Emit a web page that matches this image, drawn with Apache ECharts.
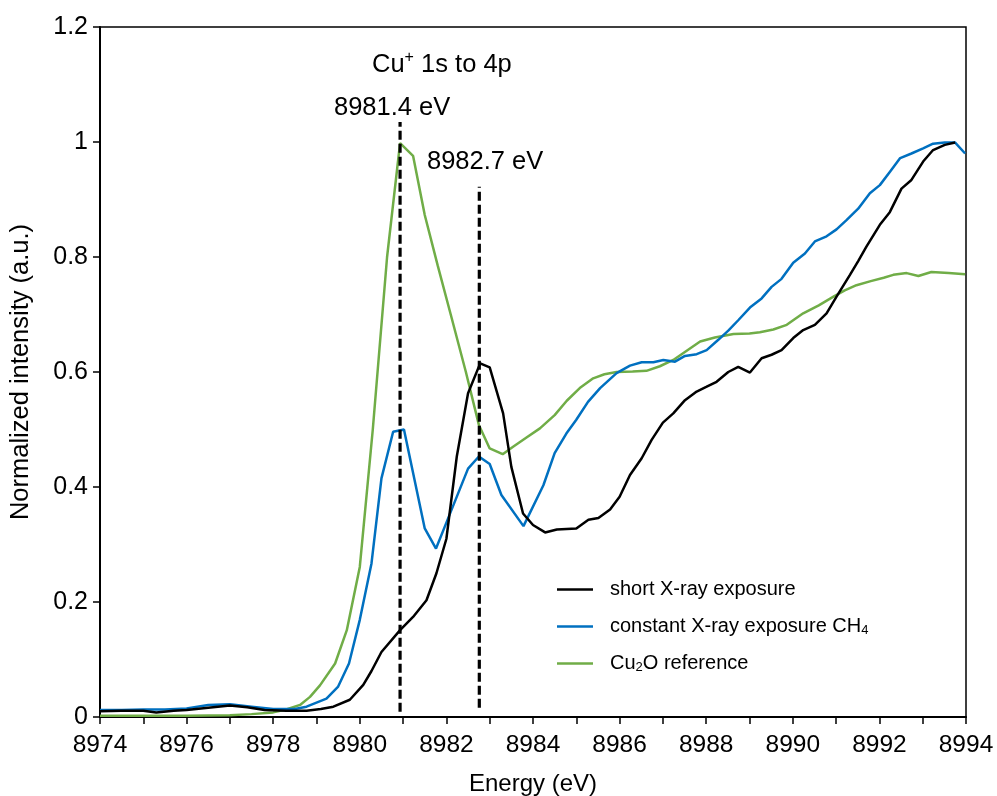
<!DOCTYPE html>
<html>
<head>
<meta charset="utf-8">
<script src="https://cdn.jsdelivr.net/npm/echarts@6/dist/echarts.min.js"></script>
<style>html,body{margin:0;padding:0;background:#fff;}#c{width:997px;height:796px;}</style>
</head>
<body>
<div id="c"></div>
<script>
// ---- data ----
var shortE = [8974.0, 8974.5, 8975.0, 8975.3, 8975.7, 8976.0, 8976.5, 8977.0, 8977.4, 8977.8, 8978.3, 8978.77, 8979.1, 8979.39, 8979.77, 8980.08, 8980.27, 8980.5, 8980.93, 8981.23, 8981.54, 8981.77, 8982.0, 8982.24, 8982.5, 8982.78, 8983.0, 8983.31, 8983.5, 8983.77, 8984.0, 8984.28, 8984.55, 8985.0, 8985.28, 8985.51, 8985.78, 8986.0, 8986.24, 8986.51, 8986.74, 8987.0, 8987.24, 8987.51, 8987.78, 8988.0, 8988.24, 8988.51, 8988.74, 8989.01, 8989.28, 8989.51, 8989.74, 8990.01, 8990.24, 8990.51, 8990.78, 8991.01, 8991.32, 8991.51, 8991.7, 8992.01, 8992.24, 8992.51, 8992.74, 8993.01, 8993.24, 8993.51, 8993.75];
var shortI = [0.010, 0.011, 0.011, 0.008, 0.011, 0.012, 0.016, 0.020, 0.017, 0.012, 0.011, 0.011, 0.014, 0.018, 0.030, 0.056, 0.080, 0.113, 0.151, 0.174, 0.203, 0.250, 0.310, 0.453, 0.563, 0.615, 0.608, 0.528, 0.435, 0.354, 0.334, 0.321, 0.326, 0.328, 0.343, 0.346, 0.361, 0.383, 0.421, 0.450, 0.482, 0.512, 0.528, 0.551, 0.566, 0.574, 0.583, 0.600, 0.609, 0.599, 0.624, 0.630, 0.638, 0.659, 0.673, 0.682, 0.702, 0.731, 0.769, 0.793, 0.818, 0.856, 0.878, 0.919, 0.934, 0.966, 0.986, 0.995, 0.999];

var constE = [8974.0, 8974.5, 8975.0, 8975.5, 8976.0, 8976.5, 8977.0, 8977.5, 8978.0, 8978.5, 8978.77, 8979.23, 8979.5, 8979.75, 8980.0, 8980.27, 8980.5, 8980.77, 8981.02, 8981.5, 8981.76, 8982.0, 8982.25, 8982.5, 8982.75, 8983.0, 8983.27, 8983.78, 8984.24, 8984.5, 8984.77, 8985.0, 8985.27, 8985.55, 8985.93, 8986.24, 8986.51, 8986.78, 8987.01, 8987.28, 8987.51, 8987.78, 8988.01, 8988.28, 8988.51, 8988.74, 8989.01, 8989.28, 8989.51, 8989.74, 8990.01, 8990.28, 8990.51, 8990.78, 8991.01, 8991.24, 8991.51, 8991.78, 8992.01, 8992.24, 8992.48, 8992.74, 8993.01, 8993.24, 8993.51, 8993.75, 8993.98];
var constI = [0.012, 0.012, 0.013, 0.013, 0.015, 0.021, 0.022, 0.018, 0.014, 0.014, 0.018, 0.032, 0.053, 0.093, 0.169, 0.267, 0.415, 0.496, 0.500, 0.328, 0.293, 0.338, 0.385, 0.432, 0.453, 0.440, 0.386, 0.332, 0.403, 0.459, 0.493, 0.517, 0.548, 0.572, 0.598, 0.611, 0.617, 0.617, 0.621, 0.618, 0.628, 0.631, 0.638, 0.656, 0.672, 0.690, 0.712, 0.728, 0.748, 0.762, 0.790, 0.806, 0.827, 0.836, 0.848, 0.864, 0.884, 0.911, 0.925, 0.948, 0.972, 0.980, 0.989, 0.997, 0.999, 0.999, 0.980];

var refE = [8974.0, 8975.0, 8976.0, 8977.0, 8977.5, 8978.0, 8978.3, 8978.62, 8978.85, 8979.08, 8979.43, 8979.7, 8980.0, 8980.3, 8980.63, 8980.93, 8981.23, 8981.5, 8981.8, 8982.1, 8982.45, 8982.75, 8983.0, 8983.3, 8983.54, 8983.85, 8984.16, 8984.5, 8984.78, 8985.08, 8985.39, 8985.65, 8985.93, 8986.3, 8986.62, 8986.93, 8987.24, 8987.55, 8987.86, 8988.2, 8988.63, 8989.0, 8989.24, 8989.55, 8989.86, 8990.24, 8990.6, 8990.94, 8991.2, 8991.47, 8991.8, 8992.1, 8992.32, 8992.63, 8992.9, 8993.2, 8993.6, 8993.98];
var refI = [0.002, 0.002, 0.002, 0.003, 0.005, 0.008, 0.013, 0.021, 0.035, 0.055, 0.093, 0.151, 0.261, 0.500, 0.800, 0.998, 0.976, 0.873, 0.785, 0.700, 0.600, 0.508, 0.467, 0.457, 0.470, 0.486, 0.502, 0.525, 0.550, 0.572, 0.589, 0.596, 0.600, 0.601, 0.602, 0.610, 0.621, 0.637, 0.653, 0.660, 0.666, 0.667, 0.669, 0.674, 0.682, 0.702, 0.716, 0.731, 0.742, 0.751, 0.758, 0.764, 0.769, 0.772, 0.767, 0.774, 0.772, 0.770];

// dashed marker lines
var markE = [8980.93, 8982.76];
var markTop = [1.035, 0.922];
var markBottom = [0.009, 0.016];

var seriesNames = ['short X-ray exposure', 'constant X-ray exposure CH4', 'Cu2O reference'];
var legendRich = {
  'short X-ray exposure': 'short X-ray exposure',
  'constant X-ray exposure CH4': 'constant X-ray exposure CH{sub|4}',
  'Cu2O reference': 'Cu{sub|2}O reference'
};
var xTicks = [8974, 8976, 8978, 8980, 8982, 8984, 8986, 8988, 8990, 8992, 8994];
var yTicks = [0, 0.2, 0.4, 0.6, 0.8, 1, 1.2];

function zip(a, b) { return a.map(function (v, i) { return [v, b[i]]; }); }

var FONT = '"Liberation Sans", Arial, sans-serif';
var chart = echarts.init(document.getElementById('c'), null, { renderer: 'canvas' });

var series = [
  { name: seriesNames[0], type: 'line', data: zip(shortE, shortI), symbol: 'none', lineStyle: { color: '#000000', width: 2.5 }, itemStyle: { color: '#000000' }, z: 3 },
  { name: seriesNames[1], type: 'line', data: zip(constE, constI), symbol: 'none', lineStyle: { color: '#0070C0', width: 2.5 }, itemStyle: { color: '#0070C0' }, z: 2 },
  { name: seriesNames[2], type: 'line', data: zip(refE, refI), symbol: 'none', lineStyle: { color: '#70AD47', width: 2.5 }, itemStyle: { color: '#70AD47' }, z: 1 }
];
markE.forEach(function (e, i) {
  series.push({
    type: 'line', data: [[e, markBottom[i]], [e, markTop[i]]], symbol: 'none', silent: true,
    lineStyle: { color: '#000000', width: 3.2, type: [9, 4] }, z: 5
  });
});

chart.setOption({
  animation: false,
  backgroundColor: '#ffffff',
  grid: { left: 100, right: 31, top: 27, bottom: 79, show: true, borderColor: '#000', borderWidth: 1.5, containLabel: false, outerBoundsMode: 'none' },
  xAxis: {
    type: 'value', min: 8974, max: 8994, interval: 1,
    name: 'Energy (eV)', nameLocation: 'middle', nameGap: 55,
    nameTextStyle: { fontFamily: FONT, fontSize: 24, color: '#000' },
    axisLine: { lineStyle: { color: '#000', width: 2 } },
    axisTick: { show: true, inside: false, length: 7, lineStyle: { color: '#000', width: 1.5 } },
    splitLine: { show: false },
    axisLabel: {
      margin: 16, fontFamily: FONT, fontSize: 24.5, color: '#000',
      formatter: function (v) { return xTicks.indexOf(v) >= 0 ? String(v) : ''; }
    }
  },
  yAxis: {
    type: 'value', min: 0, max: 1.2, interval: 0.2,
    name: 'Normalized intensity (a.u.)', nameLocation: 'middle', nameGap: 66,
    nameTextStyle: { fontFamily: FONT, fontSize: 25.5, color: '#000' },
    axisLine: { show: true, lineStyle: { color: '#000', width: 2 } },
    axisTick: { show: true, inside: false, length: 7, lineStyle: { color: '#000', width: 1.5 } },
    splitLine: { show: false },
    axisLabel: {
      margin: 12, fontFamily: FONT, fontSize: 25, color: '#000',
      formatter: function (v) {
        for (var i = 0; i < yTicks.length; i++) { if (Math.abs(yTicks[i] - v) < 1e-9) return String(yTicks[i]); }
        return '';
      }
    }
  },
  legend: {
    data: seriesNames, orient: 'vertical', left: 557, top: 579, padding: 0,
    icon: 'rect', itemWidth: 36, itemHeight: 2.5, itemGap: 16,
    formatter: function (n) { return legendRich[n]; },
    textStyle: {
      fontFamily: FONT, fontSize: 20, color: '#000', lineHeight: 21, padding: [0, 0, 0, 12],
      rich: { sub: { fontFamily: FONT, fontSize: 13, verticalAlign: 'bottom', lineHeight: 21, padding: [8, 0, 0, 0] } }
    }
  },
  series: series,
  graphic: [
    {
      type: 'text', left: 372, top: 50,
      style: {
        text: '{a|Cu}{s|+}{a| 1s to 4p}', fill: '#000',
        rich: {
          a: { fontFamily: FONT, fontSize: 25.5, lineHeight: 30 },
          s: { fontFamily: FONT, fontSize: 16, lineHeight: 30, padding: [0, 0, 14, 0], verticalAlign: 'top' }
        }
      }
    },
    { type: 'text', left: 334, top: 95, style: { text: '8981.4 eV', font: '25.5px ' + FONT, fill: '#000' } },
    { type: 'text', left: 427, top: 149, style: { text: '8982.7 eV', font: '25.5px ' + FONT, fill: '#000' } }
  ]
});
</script>
</body>
</html>
